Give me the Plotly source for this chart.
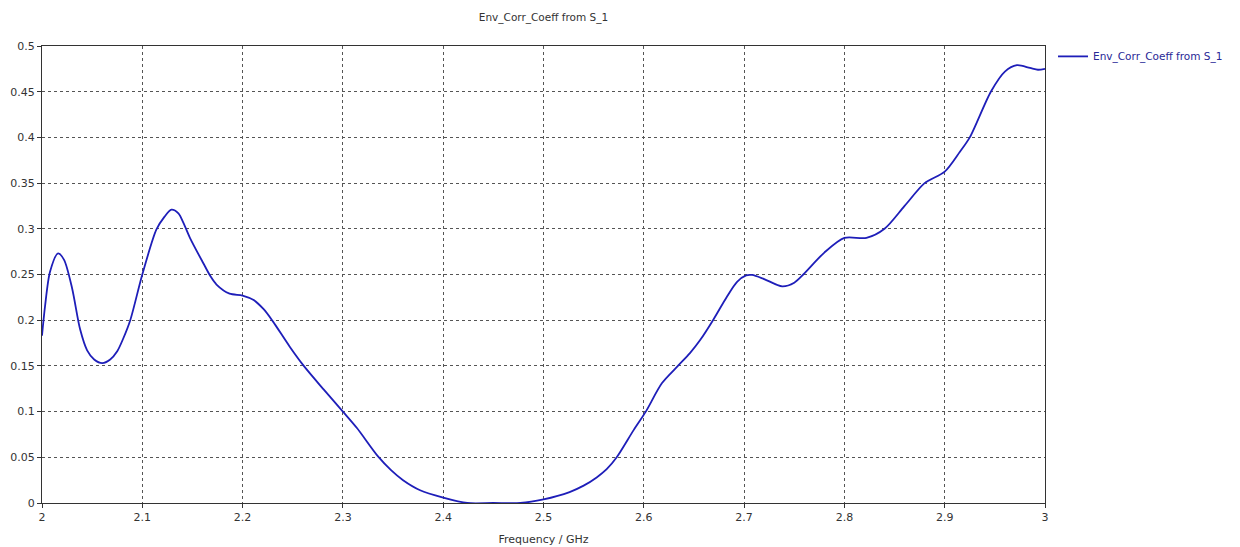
import plotly.graph_objects as go

# Envelope correlation coefficient versus frequency
freq_ghz = [
    2.000, 2.003, 2.008, 2.016, 2.022, 2.030, 2.038, 2.045, 2.052, 2.060,
    2.068, 2.075, 2.081, 2.088, 2.100, 2.114, 2.122, 2.129, 2.136, 2.142,
    2.148, 2.161, 2.168, 2.174, 2.187, 2.200, 2.211, 2.221, 2.230, 2.247,
    2.261, 2.281, 2.300, 2.314, 2.335, 2.348, 2.360, 2.377, 2.400, 2.424,
    2.450, 2.477, 2.500, 2.526, 2.540, 2.553, 2.563, 2.573, 2.590, 2.602,
    2.618, 2.634, 2.646, 2.656, 2.669, 2.683, 2.693, 2.702, 2.708, 2.720,
    2.738, 2.750, 2.759, 2.780, 2.800, 2.822, 2.840, 2.860, 2.880, 2.900,
    2.915, 2.925, 2.946, 2.960, 2.972, 2.985, 2.993, 3.000,
]
env_corr_coeff = [
    0.183, 0.215, 0.253, 0.273, 0.266, 0.235, 0.190, 0.167, 0.157, 0.153,
    0.157, 0.166, 0.180, 0.200, 0.250, 0.299, 0.313, 0.321, 0.317, 0.304,
    0.289, 0.262, 0.248, 0.239, 0.229, 0.227, 0.222, 0.212, 0.199, 0.171,
    0.150, 0.124, 0.100, 0.082, 0.051, 0.036, 0.025, 0.014, 0.006, 0.000,
    0.000, 0.000, 0.004, 0.012, 0.019, 0.028, 0.037, 0.050, 0.080, 0.100,
    0.131, 0.150, 0.164, 0.178, 0.200, 0.226, 0.242, 0.249, 0.2495, 0.245,
    0.237, 0.241, 0.250, 0.274, 0.290, 0.290, 0.300, 0.325, 0.350, 0.3625,
    0.384, 0.400, 0.450, 0.472, 0.479, 0.476, 0.474, 0.475,
]

x_ticks = [2.0, 2.1, 2.2, 2.3, 2.4, 2.5, 2.6, 2.7, 2.8, 2.9, 3.0]
x_tick_labels = ["2", "2.1", "2.2", "2.3", "2.4", "2.5", "2.6", "2.7", "2.8", "2.9", "3"]
y_ticks = [0, 0.05, 0.1, 0.15, 0.2, 0.25, 0.3, 0.35, 0.4, 0.45, 0.5]
y_tick_labels = ["0", "0.05", "0.1", "0.15", "0.2", "0.25", "0.3", "0.35", "0.4", "0.45", "0.5"]

series_name = "Env_Corr_Coeff from S_1"
font_family = "DejaVu Sans"

fig = go.Figure()
fig.add_trace(go.Scatter(
    x=freq_ghz,
    y=env_corr_coeff,
    mode="lines",
    name=series_name,
    line=dict(color="rgb(30,30,185)", width=1.8, shape="spline", smoothing=0.8),
))

axis_common = dict(
    showline=True,
    linecolor="#333333",
    linewidth=1,
    mirror=True,
    showgrid=True,
    gridcolor="#555555",
    griddash="dot",
    gridwidth=1,
    zeroline=False,
    ticks="outside",
    ticklen=4,
    tickcolor="#333333",
    automargin=False,
    tickfont=dict(family=font_family, size=11, color="#333333"),
)

fig.update_layout(
    width=1240,
    height=547,
    paper_bgcolor="white",
    plot_bgcolor="white",
    margin=dict(l=42, r=195, t=46, b=44),
    title=dict(
        text=series_name,
        x=(42 + 1045) / 2 / 1240,
        xanchor="center",
        y=1 - 17 / 547,
        yanchor="middle",
        font=dict(family=font_family, size=10.5, color="#333333"),
    ),
    xaxis=dict(
        range=[2.0, 3.0],
        tickvals=x_ticks,
        ticktext=x_tick_labels,
        title=dict(text="Frequency / GHz", standoff=12,
                   font=dict(family=font_family, size=11, color="#333333")),
        **axis_common,
    ),
    yaxis=dict(
        range=[0, 0.5],
        tickvals=y_ticks,
        ticktext=y_tick_labels,
        **axis_common,
    ),
    showlegend=True,
    legend=dict(
        x=1.008,
        xanchor="left",
        y=1.009,
        yanchor="top",
        bgcolor="rgba(0,0,0,0)",
        font=dict(family=font_family, size=10.5, color="rgb(40,40,150)"),
        itemwidth=30,
    ),
)

fig.write_html("out.html")
